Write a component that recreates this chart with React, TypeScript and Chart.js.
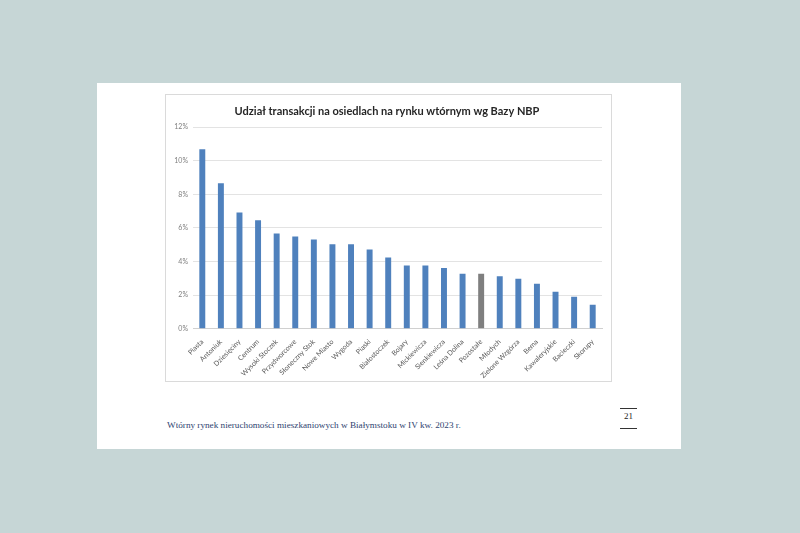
import React, { useEffect, useRef } from "react";
import { Chart, registerables } from "chart.js";

Chart.register(...registerables);

const categories = [
  "Piasta", "Antoniuk", "Dziesięciny", "Centrum", "Wysoki Stoczek", "Przydworcowe",
  "Słoneczny Stok", "Nowe Miasto", "Wygoda", "Piaski", "Białostoczek", "Bojary",
  "Mickiewicza", "Sienkiewicza", "Leśna Dolina", "Pozostałe", "Młodych",
  "Zielone Wzgórza", "Bema", "Kawaleryjskie", "Bacieczki", "Skorupy",
];
const shares = [
  10.69, 8.66, 6.92, 6.45, 5.67, 5.49, 5.31, 5.02, 5.02, 4.72, 4.24, 3.76,
  3.76, 3.61, 3.27, 3.27, 3.12, 2.97, 2.67, 2.2, 1.9, 1.42,
];
const highlighted = ["Pozostałe"];
const yTicks = [0, 2, 4, 6, 8, 10, 12];

const title = "Udział transakcji na osiedlach na rynku wtórnym wg Bazy NBP";
const footer = "Wtórny rynek nieruchomości mieszkaniowych w Białymstoku w IV kw. 2023 r.";
const pageNo = "21";

export default function App() {
  const ref = useRef<HTMLCanvasElement>(null);
  useEffect(() => {
    document.body.style.margin = "0";
    const chart = new Chart(ref.current!, {
      type: "bar",
      data: {
        labels: categories,
        datasets: [
          {
            data: shares,
            backgroundColor: categories.map((c) => (highlighted.includes(c) ? "#7f7f7f" : "#4f81bd")),
            barPercentage: 0.64,
            categoryPercentage: 0.5,
          },
        ],
      },
      options: {
        responsive: false,
        animation: false,
        devicePixelRatio: 1,
        layout: { padding: { left: 6, right: 9, top: 0, bottom: 0 } },
        plugins: {
          legend: { display: false },
          tooltip: { enabled: false },
          title: {
            display: true,
            text: title,
            color: "#262626",
            font: { family: "Lato", size: 11, weight: "bold" },
            padding: { top: 10, bottom: 9 },
          },
        },
        scales: {
          y: {
            min: 0,
            max: 12,
            afterBuildTicks: (s: any) => {
              s.ticks = yTicks.map((v) => ({ value: v }));
            },
            afterFit: (s: any) => {
              s.width = 21;
            },
            ticks: {
              callback: (v: any) => v + "%",
              color: "#808080",
              font: { family: "Lato", size: 7 },
              padding: 5,
            },
            grid: { color: "#e3e3e3", drawTicks: false },
            border: { display: false },
          },
          x: {
            ticks: {
              minRotation: 45,
              maxRotation: 45,
              color: "#595959",
              font: { family: "Lato", size: 7 },
              padding: 1,
              autoSkip: false,
            },
            grid: { display: false },
            border: { color: "#d0d0d0" },
          },
        },
      },
    });
    return () => chart.destroy();
  }, []);

  return (
    <div style={{ position: "relative", width: 800, height: 533, background: "#c6d6d6", overflow: "hidden" }}>
      <div style={{ position: "absolute", left: 97, top: 83, width: 584, height: 366, background: "#ffffff" }} />
      <div
        style={{
          position: "absolute",
          left: 165,
          top: 94,
          width: 445,
          height: 286,
          border: "1px solid #dadada",
          background: "#fff",
        }}
      >
        <canvas ref={ref} width={445} height={286} style={{ display: "block" }} />
      </div>
      <div
        style={{
          position: "absolute",
          left: 167,
          top: 419,
          fontFamily: "Liberation Serif",
          fontSize: 9.2,
          color: "#2f4470",
          whiteSpace: "nowrap",
          lineHeight: "12px",
        }}
      >
        {footer}
      </div>
      <div style={{ position: "absolute", left: 620, top: 408, width: 17, height: 1, background: "#333" }} />
      <div
        style={{
          position: "absolute",
          left: 620,
          top: 410,
          width: 17,
          textAlign: "center",
          fontFamily: "Liberation Serif",
          fontSize: 9,
          color: "#222",
          lineHeight: "12px",
        }}
      >
        {pageNo}
      </div>
      <div style={{ position: "absolute", left: 620, top: 428, width: 17, height: 1, background: "#333" }} />
    </div>
  );
}
